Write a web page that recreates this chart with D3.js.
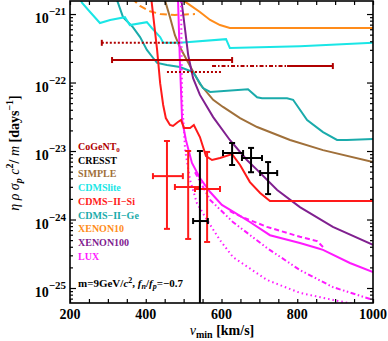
<!DOCTYPE html>
<html>
<head>
<meta charset="utf-8">
<script src="https://cdn.jsdelivr.net/npm/d3@7"></script>
<style>
body { margin: 0; background: #fff; }
text { font-family: "Liberation Serif", "Times New Roman", serif; font-weight: bold; }
</style>
</head>
<body>
<div id="chart"></div>
<script>
// curves: [vmin (km/s), eta*rho*sigma*c^2/m (1/days)]
var xenon10Solid = [[490,1.71e-21],[517,1.35e-21],[543,1.07e-21],[570,8.2e-22],[596,6.9e-22],[622,6.25e-22],[1000,6.25e-22]];
var xenon10Dashed = [[363,1.71e-21],[385,1.31e-21],[411,1.1e-21],[438,1.0e-21],[477,9.7e-22],[530,1.0e-21]];
var cdmsLite = [[224,1.79e-21],[232,1.45e-21],[253,1.07e-21],[279,7.4e-22],[306,8.2e-22],[345,9.0e-22],[358,6.9e-22],[403,7.6e-22],[416,6.25e-22],[438,4.6e-22],[446,3.8e-22],[490,3.8e-22],[612,4.3e-22],[622,3.2e-22],[807,3.4e-22],[1000,3.8e-22]];
var cdmsGe = [[321,1.79e-21],[340,9.0e-22],[366,6.45e-22],[385,4.6e-22],[403,3.0e-22],[419,2.3e-22],[430,1.93e-22],[456,1.8e-22],[490,1.68e-22],[525,1.42e-22],[551,8.3e-23],[570,7.3e-23],[670,8.0e-23],[694,6.1e-23],[707,5.9e-23],[773,5.9e-23],[789,5.6e-23],[826,2.84e-23],[868,1.89e-23],[905,1.45e-23],[931,1.45e-23],[1000,1.5e-23]];
var simple = [[448,1.79e-21],[464,9.0e-22],[477,4.9e-22],[490,3.3e-22],[517,1.74e-22],[543,9.5e-23],[578,5.6e-23],[604,4.4e-23],[649,3.03e-23],[694,2.24e-23],[781,1.45e-23],[868,1.03e-23],[1000,6.9e-24]];
var xenon100 = [[493,1.79e-21],[504,5.8e-22],[512,2.52e-22],[525,1.16e-22],[543,6.6e-23],[578,3.13e-23],[622,1.45e-23],[667,7.4e-24],[694,5.3e-24],[747,2.7e-24],[807,1.52e-24],[894,7.8e-25],[1000,4.25e-25]];
var cdmsSi = [[414,1.79e-21],[430,3.0e-22],[438,9.8e-23],[446,4.7e-23],[453,3.03e-23],[464,2.4e-23],[472,2.32e-23],[485,2.65e-23],[493,2.84e-23],[501,2.17e-23],[517,2.17e-23],[527,2.4e-23],[543,1.6e-23],[559,8.45e-24],[575,7.4e-24],[596,7.9e-24],[628,9.0e-24],[649,6.25e-24],[675,3.52e-24],[702,2.44e-24],[728,1.86e-24],[1000,1.86e-24]];
var luxSolid = [[485,1.79e-21],[490,2.13e-22],[496,2.84e-23],[506,1.45e-23],[522,6.7e-24],[543,4.04e-24],[570,2.52e-24],[601,1.63e-24],[636,1.25e-24],[675,9.2e-25],[728,5.9e-25],[807,4.54e-25],[852,3.84e-25],[868,3.6e-25],[939,2.32e-25],[1000,1.71e-25]];
var luxDashed = [[622,1.33e-24],[649,1.12e-24],[720,7.8e-25],[807,5.6e-25],[852,4.85e-25],[868,3.97e-25]];
var luxDotDash = [[530,4.9e-24],[570,1.93e-24],[630,9.2e-25],[720,3.84e-25],[807,1.83e-25],[894,1.03e-25],[1000,6.7e-26]];
var luxDotted = [[493,1.79e-21],[496,5.6e-23],[504,1.03e-23],[517,3.78e-24],[535,1.74e-24],[562,9.8e-25],[596,5.0e-25],[630,2.84e-25],[720,1.31e-25],[807,8.5e-26],[894,6.7e-26],[966,5.6e-26]];

// CoGeNT bins: [vmin from, vmin to, value]
var cogentSolid = [[311,628,2.13e-22],[773,894,1.74e-22]];
var cogentDotted = [[284,493,3.8e-22],[456,601,1.42e-22]];
var cogentDashDot = [[575,773,1.74e-22]];

// points with error bars: [vmin, value, vmin lo, vmin hi, value lo, value hi]
var siPoints = [[456,4.3e-24,419,498,7.3e-25,1.4e-23],[512,2.98e-24,477,543,5.2e-25,1.0e-23],[562,2.79e-24,530,596,4.7e-25,9.7e-24]];
var cresstPoints = [[543,9.5e-25,525,564,1e-26,1.0e-23],[628,9.35e-24,604,657,6.25e-24,1.31e-23],[678,7.9e-24,654,707,4.9e-24,1.11e-23],[723,4.77e-24,702,747,2.35e-24,6.9e-24]];

var legendNames = ["CoGeNT", "CRESST", "SIMPLE", "CDMSlite", "CDMS\u2212II\u2212Si", "CDMS\u2212II\u2212Ge", "XENON10", "XENON100", "LUX"];
var legendColors = ["#b00000", "#000000", "#a0703a", "#1ae6e6", "#ff1a1a", "#1aabab", "#ff8c1a", "#80208f", "#ff1aff"];

var xTicks = d3.range(200, 1001, 50);
var xLabels = [200, 400, 600, 800, 1000];
var yLabels = [-25, -24, -23, -22, -21];

var margin = {top: 1, right: 15, bottom: 38, left: 70},
    width = 303,
    height = 302;

var svg = d3.select("#chart").append("svg")
    .attr("width", 388)
    .attr("height", 341);

var chart = svg.append("g")
    .attr("transform", "translate(" + margin.left + "," + margin.top + ")");

var x = d3.scaleLinear().domain([200, 1000]).range([0, width]);
var y = d3.scaleLog().domain([6.04e-26, 1.55e-21]).range([height, 0]);

chart.append("clipPath").attr("id", "clip")
    .append("rect").attr("width", width).attr("height", height);

var plot = chart.append("g").attr("clip-path", "url(#clip)");

var line = d3.line()
    .x(function (d) { return x(d[0]); })
    .y(function (d) { return y(d[1]); });

var curves = [
    {data: simple, color: legendColors[2], dash: null},
    {data: cdmsGe, color: legendColors[5], dash: null},
    {data: cdmsLite, color: legendColors[3], dash: null},
    {data: xenon10Solid, color: legendColors[6], dash: null},
    {data: xenon10Dashed, color: legendColors[6], dash: "7,4"},
    {data: xenon100, color: legendColors[7], dash: null},
    {data: luxDotted, color: legendColors[8], dash: "1.5,3"},
    {data: luxDotDash, color: legendColors[8], dash: "5,2.5,1.5,2.5,1.5,2.5"},
    {data: luxDashed, color: legendColors[8], dash: "5,3"},
    {data: luxSolid, color: legendColors[8], dash: null},
    {data: cdmsSi, color: legendColors[4], dash: null}
];

plot.selectAll(".curve")
    .data(curves)
    .enter().append("path")
    .attr("class", "curve")
    .attr("d", function (d) { return line(d.data); })
    .style("fill", "none")
    .style("stroke", function (d) { return d.color; })
    .style("stroke-width", 2)
    .style("stroke-dasharray", function (d) { return d.dash; });

// CoGeNT bins
function bins(data, dash) {
    plot.selectAll(null)
        .data(data)
        .enter().append("line")
        .attr("x1", function (d) { return x(d[0]); })
        .attr("x2", function (d) { return x(d[1]); })
        .attr("y1", function (d) { return y(d[2]); })
        .attr("y2", function (d) { return y(d[2]); })
        .style("stroke", legendColors[0])
        .style("stroke-width", 2)
        .style("stroke-dasharray", dash);
}
bins(cogentSolid, null);
bins(cogentDotted, "2,2");
bins(cogentDashDot, "4,2,1.5,2");

// caps on CoGeNT bins
var capEnds = [[cogentSolid[0][0], cogentSolid[0][2]], [cogentSolid[0][1], cogentSolid[0][2]],
    [cogentSolid[1][1], cogentSolid[1][2]], [cogentDotted[0][0], cogentDotted[0][2]]];
plot.selectAll(null)
    .data(capEnds)
    .enter().append("line")
    .attr("x1", function (d) { return x(d[0]); })
    .attr("x2", function (d) { return x(d[0]); })
    .attr("y1", function (d) { return y(d[1]) - 3; })
    .attr("y2", function (d) { return y(d[1]) + 3; })
    .style("stroke", legendColors[0])
    .style("stroke-width", 2);

function crosses(data, color) {
    var g = plot.selectAll(null)
        .data(data)
        .enter().append("g")
        .style("stroke", color)
        .style("stroke-width", 2);
    g.append("line")
        .attr("x1", function (d) { return x(d[2]); })
        .attr("x2", function (d) { return x(d[3]); })
        .attr("y1", function (d) { return y(d[1]); })
        .attr("y2", function (d) { return y(d[1]); });
    g.append("line")
        .attr("x1", function (d) { return x(d[0]); })
        .attr("x2", function (d) { return x(d[0]); })
        .attr("y1", function (d) { return y(d[4]); })
        .attr("y2", function (d) { return y(d[5]); });
    [2, 3].forEach(function (k) {
        g.append("line")
            .attr("x1", function (d) { return x(d[k]); })
            .attr("x2", function (d) { return x(d[k]); })
            .attr("y1", function (d) { return y(d[1]) - 3; })
            .attr("y2", function (d) { return y(d[1]) + 3; });
    });
    [4, 5].forEach(function (k) {
        g.append("line")
            .attr("x1", function (d) { return x(d[0]) - 3; })
            .attr("x2", function (d) { return x(d[0]) + 3; })
            .attr("y1", function (d) { return y(d[k]); })
            .attr("y2", function (d) { return y(d[k]); });
    });
}
crosses(siPoints, legendColors[4]);
crosses(cresstPoints, legendColors[1]);

// axes
var minorY = y.ticks().filter(function (t) {
    return Math.abs(Math.log10(t) - Math.round(Math.log10(t))) > 1e-6;
});
var majorY = yLabels.map(function (e) { return Math.pow(10, e); });

function yAxes(values, size) {
    chart.append("g").attr("class", "y axis")
        .call(d3.axisLeft(y).tickValues(values).tickSize(-size).tickFormat(""));
    chart.append("g").attr("class", "y axis")
        .attr("transform", "translate(" + width + ",0)")
        .call(d3.axisRight(y).tickValues(values).tickSize(-size).tickFormat(""));
}
yAxes(minorY, 3);
yAxes(majorY, 6);

chart.append("g").attr("class", "x axis")
    .attr("transform", "translate(0," + height + ")")
    .call(d3.axisBottom(x).tickValues(xTicks).tickSize(-4).tickFormat(""));
chart.append("g").attr("class", "x axis")
    .call(d3.axisTop(x).tickValues(xTicks).tickSize(-4).tickFormat(""));

chart.selectAll(".axis .domain").remove();
chart.selectAll(".axis line").style("stroke", "#000").style("stroke-width", 1.2);

chart.append("rect")
    .attr("width", width).attr("height", height)
    .style("fill", "none").style("stroke", "#000").style("stroke-width", 1.6);

// tick labels
chart.selectAll(".xlab")
    .data(xLabels)
    .enter().append("text")
    .attr("x", function (d) { return x(d); })
    .attr("y", height + 16)
    .style("text-anchor", "middle")
    .style("font-size", "14px")
    .text(function (d) { return d; });

var ylab = chart.selectAll(".ylab")
    .data(yLabels)
    .enter().append("text")
    .attr("x", -4)
    .attr("y", function (d) { return y(Math.pow(10, d)) + 9; })
    .style("text-anchor", "end")
    .style("font-size", "14px");
ylab.append("tspan").text("10");
ylab.append("tspan")
    .attr("dy", -8)
    .style("font-size", "11px")
    .text(function (d) { return "\u2212" + Math.abs(d); });

// legend
var legend = chart.selectAll(".legend")
    .data(legendNames)
    .enter().append("text")
    .attr("x", 8)
    .attr("y", function (d, i) { return 149 + i * 13.7; })
    .style("font-size", "10px")
    .style("fill", function (d, i) { return legendColors[i]; })
    .text(function (d) { return d; });
legend.filter(function (d, i) { return i === 0; })
    .append("tspan").attr("dy", 2).style("font-size", "7px").text("0");

// annotation
var note = chart.append("text")
    .attr("x", 8)
    .attr("y", 286)
    .style("font-size", "11px");
note.append("tspan").text("m=9GeV/");
note.append("tspan").style("font-style", "italic").text("c");
note.append("tspan").attr("dy", -4).style("font-size", "8px").text("2");
note.append("tspan").attr("dy", 4).text(",  ");
note.append("tspan").style("font-style", "italic").text("f");
note.append("tspan").attr("dy", 2).style("font-size", "8px").style("font-style", "italic").text("n");
note.append("tspan").attr("dy", -2).text("/");
note.append("tspan").style("font-style", "italic").text("f");
note.append("tspan").attr("dy", 2).style("font-size", "8px").style("font-style", "italic").text("p");
note.append("tspan").attr("dy", -2).text("=\u22120.7");

// axis titles
var xt = svg.append("text")
    .attr("x", 222)
    .attr("y", 335)
    .style("text-anchor", "middle")
    .style("font-size", "14px");
xt.append("tspan").style("font-style", "italic").style("font-weight", "normal").text("v");
xt.append("tspan").attr("dy", 3).style("font-size", "10px").text("min");
xt.append("tspan").attr("dy", -3).text("  [km/s]");

var yt = svg.append("text")
    .attr("transform", "translate(19,153) rotate(-90)")
    .style("text-anchor", "middle")
    .style("font-size", "14px");
yt.append("tspan").style("font-style", "italic").style("font-weight", "normal").text("\u03b7 \u03c1 \u03c3");
yt.append("tspan").attr("dy", 3).style("font-size", "10px").style("font-style", "italic").text("p");
yt.append("tspan").attr("dy", -3).style("font-style", "italic").style("font-weight", "normal").text(" c");
yt.append("tspan").attr("dy", -6).style("font-size", "10px").text("2");
yt.append("tspan").attr("dy", 6).text("/ ");
yt.append("tspan").style("font-style", "italic").style("font-weight", "normal").text("m");
yt.append("tspan").text("  [days");
yt.append("tspan").attr("dy", -6).style("font-size", "10px").text("\u22121");
yt.append("tspan").attr("dy", 6).text("]");
</script>
</body>
</html>
